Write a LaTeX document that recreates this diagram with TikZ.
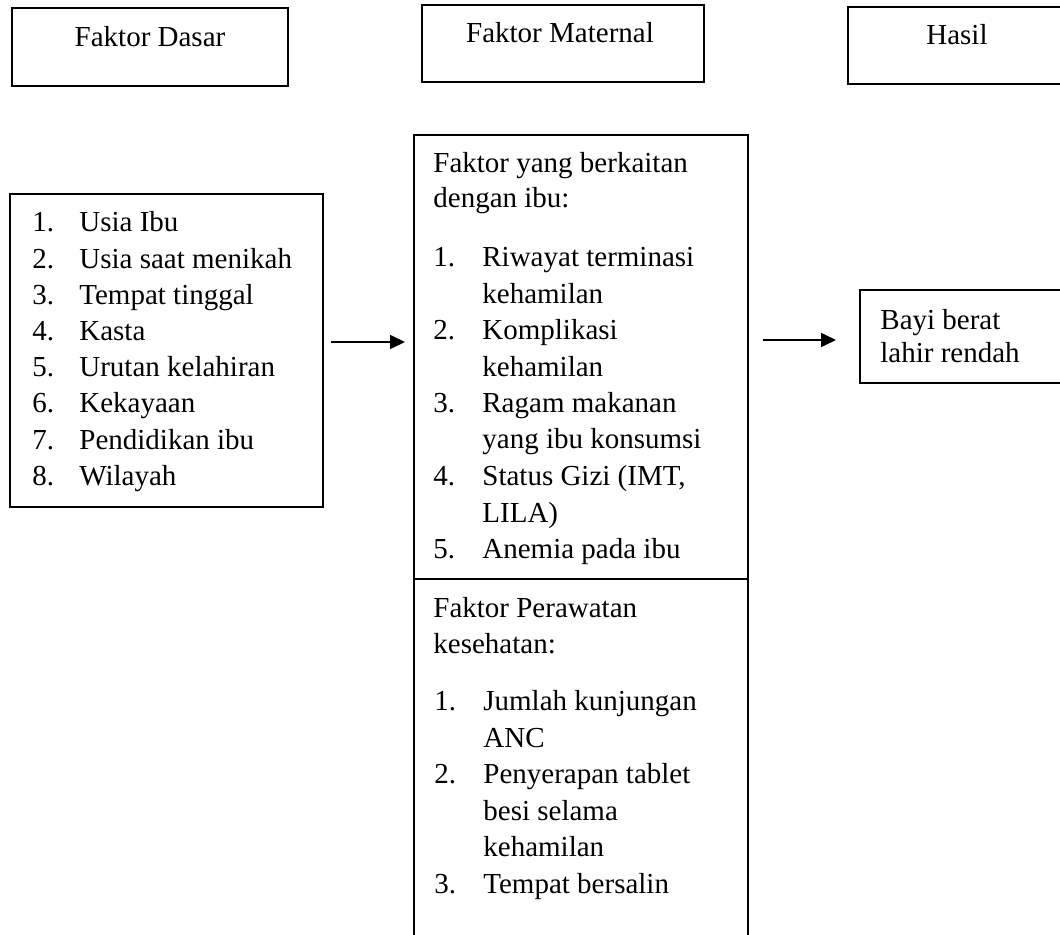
\documentclass[tikz,border=0pt]{standalone}
\usepackage{fontspec}
\setmainfont{Liberation Serif}
\usepackage{tikz}
\usetikzlibrary{arrows.meta,positioning,fit,calc}

\tikzset{box/.style={draw, line width=0.6pt, inner sep=0pt},
  txt/.style={anchor=base west, inner sep=0pt},
  arr/.style={line width=0.8pt, -{Triangle[length=7.5pt,width=7pt]}}}

\begin{document}
\begin{tikzpicture}[x=0.5pt, y=-0.5pt, every node/.style={font=\fontsize{14.5}{18}\selectfont}]
\useasboundingbox (0,0) rectangle (1060,935); \clip (0,0) rectangle (1060,935);
% header boxes
\node[box, fit={(12,8) (288,86)}] (dasar) {};    \node[anchor=base, inner sep=0] (tdasar) at (150,47) {Faktor Dasar};
\node[box, fit={(422,5) (704,82)}] (maternal) {}; \node[anchor=base, inner sep=0] (tmaternal) at (560,43) {Faktor Maternal};
\node[box, fit={(848,7) (1066,84)}] (hasil) {};   \node[anchor=base, inner sep=0] (thasil) at (957,45) {Hasil};
% faktor dasar
\node[box, fit={(10,194) (323,507)}] (dasarbox) {};
\foreach \t [count=\i] in {Usia Ibu, Usia saat menikah, Tempat tinggal, Kasta, Urutan kelahiran, Kekayaan, Pendidikan ibu, Wilayah} {
  \node[txt] (dn\i) at (32,{232+(\i-1)*36.2}) {\i.}; \node[txt] (dt\i) at (79,{232+(\i-1)*36.2}) {\t}; }
% faktor ibu
\node[box, fit={(414,135) (748,579)}] (ibubox) {};
\node[txt] (ibuh1) at (433,173) {Faktor yang berkaitan}; \node[txt] (ibuh2) at (433,208) {dengan ibu:};
\foreach \n/\t/\y [count=\k] in {1./Riwayat terminasi/267, /kehamilan/304, 2./Komplikasi/340, /kehamilan/377, 3./Ragam makanan/413,
  /yang ibu konsumsi/449, 4./{Status Gizi (IMT,}/486, /LILA)/522, 5./Anemia pada ibu/558} {
  \node[txt] (in\k) at (433,\y) {\n}; \node[txt] (it\k) at (482,\y) {\t}; }
% faktor perawatan kesehatan
\node[box, fit={(414,579) (748,945)}] (rawatbox) {};
\node[txt] (rawath1) at (433,617) {Faktor Perawatan}; \node[txt] (rawath2) at (433,653) {kesehatan:};
\foreach \n/\t/\y [count=\k] in {1./Jumlah kunjungan/710, /ANC/747, 2./Penyerapan tablet/783, /besi selama/820, /kehamilan/856, 3./Tempat bersalin/893} {
  \node[txt] (rn\k) at (434,\y) {\n}; \node[txt] (rt\k) at (483,\y) {\t}; }
% hasil
\node[box, fit={(860,290) (1070,383)}] (bayibox) {};
\node[txt] (bayi1) at (880,330) {Bayi berat}; \node[txt] (bayi2) at (880,363) {lahir rendah};
% arrows
\coordinate (a1) at (331,342); \coordinate (b1) at (405,342);
\coordinate (a2) at (763,340); \coordinate (b2) at (836,340);
\draw[arr] (a1) -- (b1); \draw[arr] (a2) -- (b2);
\end{tikzpicture}
\end{document}
